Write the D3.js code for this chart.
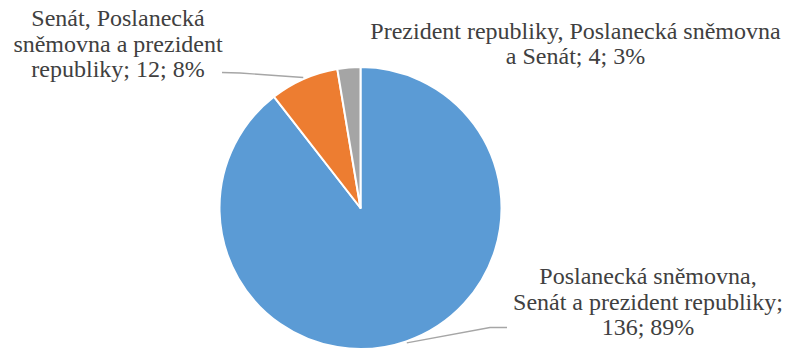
<!DOCTYPE html>
<html>
<head>
<meta charset="utf-8">
<script src="https://cdn.jsdelivr.net/npm/d3@7"></script>
<style>
  html, body { margin: 0; padding: 0; background: #ffffff; }
  svg { display: block; }
</style>
</head>
<body>
<svg id="chart" width="789" height="349"></svg>
<script>
// Kombinace orgánů a počet případů
const categories = [
  "Poslanecká sněmovna, Senát a prezident republiky",
  "Senát, Poslanecká sněmovna a prezident republiky",
  "Prezident republiky, Poslanecká sněmovna a Senát"
];
const values = [136, 12, 4];
const percents = ["89%", "8%", "3%"];
const colors = ["#5B9BD5", "#ED7D31", "#A5A5A5"];

// Zalomení popisků do řádků
const labelLines = [
  ["Poslanecká sněmovna,", "Senát a prezident republiky;", "136; 89%"],
  ["Senát, Poslanecká", "sněmovna a prezident", "republiky; 12; 8%"],
  ["Prezident republiky, Poslanecká sněmovna", "a Senát; 4; 3%"]
];

const svg = d3.select("#chart");
const cx = 360.5, cy = 208, r = 141;

const pie = d3.pie().sort(null).startAngle(0).endAngle(2 * Math.PI);
const arcs = pie(values);
const arc = d3.arc().innerRadius(0).outerRadius(r);

const g = svg.append("g").attr("transform", `translate(${cx},${cy})`);
g.selectAll("path.slice")
  .data(arcs)
  .join("path")
  .attr("class", "slice")
  .attr("d", arc)
  .attr("fill", (d, i) => colors[i])
  .attr("stroke", "#ffffff")
  .attr("stroke-width", 2)
  .attr("stroke-linejoin", "round");

// Umístění popisků: střed řádků, první účaří, řádkování
const labelPos = [
  { x: 648, y: 284, lh: 25.7 },
  { x: 118, y: 26, lh: 25.7 },
  { x: 575.5, y: 38.5, lh: 25.7 }
];

labelLines.forEach((lines, i) => {
  const p = labelPos[i];
  const t = svg.append("text")
    .attr("font-family", "Liberation Serif")
    .attr("font-size", 24)
    .attr("fill", "#404040")
    .attr("text-anchor", "middle");
  lines.forEach((s, k) => {
    t.append("tspan").attr("x", p.x).attr("y", p.y + k * p.lh).text(s);
  });
});

// Vodicí čáry od okraje výseče k popisku
const leaders = [
  { slice: 0, pts: [[490, 327.5], [507, 327.5]] },
  { slice: 1, pts: [[240, 73], [222, 72.5]] }
];
leaders.forEach(L => {
  const a = arcs[L.slice];
  const mid = (a.startAngle + a.endAngle) / 2;
  const rr = r + 1.5;
  const start = [cx + rr * Math.sin(mid), cy - rr * Math.cos(mid)];
  svg.append("path")
    .attr("d", d3.line()([start, ...L.pts]))
    .attr("fill", "none")
    .attr("stroke", "#A6A6A6")
    .attr("stroke-width", 1.3);
});
</script>
</body>
</html>
